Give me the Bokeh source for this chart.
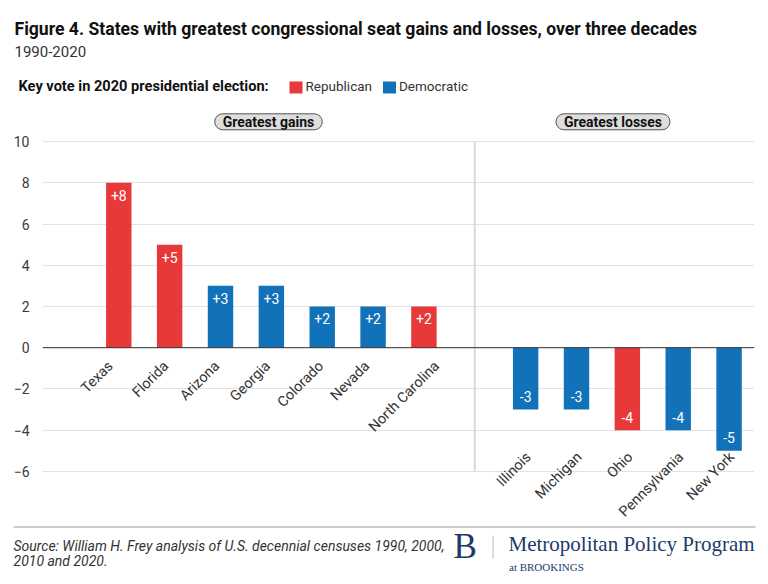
from bokeh.plotting import figure
from bokeh.models import FactorRange, Range1d, FixedTicker, Span, ColumnDataSource, Label
from bokeh.layouts import column
from bokeh.embed import file_html
from bokeh.resources import INLINE
from bokeh.core.properties import value

# ---------------- data ----------------
gain_states = ["Texas", "Florida", "Arizona", "Georgia", "Colorado", "Nevada", "North Carolina"]
gain_values = [8, 5, 3, 3, 2, 2, 2]
gain_party = ["Republican", "Republican", "Democratic", "Democratic", "Democratic", "Democratic", "Republican"]

loss_states = ["Illinois", "Michigan", "Ohio", "Pennsylvania", "New York"]
loss_values = [-3, -3, -4, -4, -5]
loss_party = ["Democratic", "Democratic", "Republican", "Democratic", "Democratic"]

y_ticks = [-6, -4, -2, 0, 2, 4, 6, 8, 10]
legend_labels = ["Republican", "Democratic"]
panel_labels = ["Greatest gains", "Greatest losses"]

title = "Figure 4. States with greatest congressional seat gains and losses, over three decades"
subtitle = "1990-2020"
legend_title = "Key vote in 2020 presidential election:"
source_lines = ["Source: William H. Frey analysis of U.S. decennial censuses 1990, 2000,",
                "2010 and 2020."]
logo_lines = ["Metropolitan Policy Program", "at BROOKINGS"]

# ---------------- style ----------------
RED = "#e8393a"
BLUE = "#1272b9"
NAVY = "#1c3a6b"
party_color = {"Republican": RED, "Democratic": BLUE}
FONT = "Roboto"
SERIF = "Liberation Serif"
W = 768


def no_align(f):
    try:
        f.frame_align = False
    except Exception:
        pass


def blank_fig(h):
    f = figure(width=W, height=h, x_range=Range1d(0, W), y_range=Range1d(h, 0),
               output_backend="svg", toolbar_location=None, tools="",
               min_border=0, x_axis_location=None, y_axis_location=None,
               outline_line_color=None)
    f.xgrid.visible = False
    f.ygrid.visible = False
    no_align(f)
    return f


# ---------------- header ----------------
HH = 133
hdr = blank_fig(HH)
hdr.text(x=[14], y=[28.8], text=[title], text_font=value(FONT), text_font_size="17.6px",
         text_font_style="bold", text_color="#111111", text_baseline="middle")
hdr.text(x=[14], y=[51.2], text=[subtitle], text_font=value(FONT), text_font_size="15px",
         text_color="#333333", text_baseline="middle")
hdr.text(x=[18], y=[85.9], text=[legend_title], text_font=value(FONT), text_font_size="14.6px",
         text_font_style="bold", text_color="#111111", text_baseline="middle")
sq_left = [289, 382.5]
hdr.rect(x=[s + 6.5 for s in sq_left], y=[87, 87], width=13, height=12,
         fill_color=[party_color[l] for l in legend_labels], line_color=None)
hdr.text(x=[s + 16 for s in sq_left], y=[85.9, 85.9], text=legend_labels,
         text_font=value(FONT), text_font_size="13.5px", text_color="#333333",
         text_baseline="middle")

pill_x = [268, 612.5]
for px, txt in zip(pill_x, panel_labels):
    kw = dict(x=px, y=121.3, text=txt, text_font=FONT, text_font_size="14px",
              text_font_style="bold", text_color="#111111", text_align="center",
              text_baseline="middle", background_fill_color="#dedede",
              border_line_color="#555555", border_line_width=1)
    try:
        lab = Label(padding=(8, 0), border_radius=8, **kw)
    except Exception:
        lab = Label(**kw)
    hdr.add_layout(lab)

# ---------------- main chart ----------------
states = gain_states + loss_states
values = gain_values + loss_values
parties = gain_party + loss_party
factors = ["_pad"] + gain_states + ["_gap"] + loss_states

p = figure(width=W, height=391,
           x_range=FactorRange(factors=factors, range_padding=0, factor_padding=0),
           y_range=Range1d(-8.48, 10.1),
           output_backend="svg", toolbar_location=None, tools="",
           min_border_left=42, min_border_right=14, min_border_top=6, min_border_bottom=2,
           x_axis_location=None, outline_line_color=None)
no_align(p)

p.xgrid.visible = False
p.yaxis.ticker = FixedTicker(ticks=y_ticks)
p.ygrid.ticker = FixedTicker(ticks=y_ticks)
p.ygrid.grid_line_color = "#e2e2e2"
p.ygrid.grid_line_width = 1
p.yaxis.axis_line_color = None
p.yaxis.major_tick_line_color = None
p.yaxis.minor_tick_line_color = None
p.yaxis.major_tick_out = 0
p.yaxis.major_tick_in = 0
p.yaxis.major_label_standoff = 13
p.yaxis.major_label_text_font = FONT
p.yaxis.major_label_text_font_size = "14px"
p.yaxis.major_label_text_color = "#3a3a3a"

# divider between the two panels
p.segment(x0=["_gap"], y0=[min(y_ticks)], x1=["_gap"], y1=[max(y_ticks)],
          line_color="#d9d9d9", line_width=2)

src = ColumnDataSource(dict(
    state=states,
    value=values,
    color=[party_color[pt] for pt in parties],
    label=[f"{v:+d}" for v in values],
    loff=[12.5 if v > 0 else -13 for v in values],
))
p.vbar(x="state", top="value", bottom=0, width=0.5, fill_color="color",
       line_color=None, source=src)
p.add_layout(Span(location=0, dimension="width", line_color="#333333", line_width=1))

p.text(x="state", y="value", text="label", y_offset="loff", source=src,
       text_font=value(FONT), text_font_size="14px", text_color="white",
       text_align="center", text_baseline="middle")

# category labels (longer rotated labels sit a little further right, as in the original)
gain_xoff = [-20 + 0.357 * 6.6 * len(s) for s in gain_states]
p.text(x=gain_states, y=[0] * len(gain_states), text=gain_states,
       angle=45, angle_units="deg", x_offset=gain_xoff, y_offset=16,
       text_font=value(FONT), text_font_size="14.4px", text_color="#333333",
       text_align="right", text_baseline="middle")
lmin = min(loss_values)
p.text(x=loss_states, y=[lmin] * len(loss_states), text=loss_states,
       angle=45, angle_units="deg", x_offset=3, y_offset=4,
       text_font=value(FONT), text_font_size="14.4px", text_color="#333333",
       text_align="right", text_baseline="middle")

# ---------------- footer ----------------
FH = 60
ftr = blank_fig(FH)
ftr.segment(x0=[13], y0=[2.5], x1=[755], y1=[2.5], line_color="#999999", line_width=1)
ftr.text(x=[13, 13], y=[21, 36.8], text=source_lines, text_font=value(FONT),
         text_font_size="14px", text_font_style="italic", text_color="#333333",
         text_baseline="middle")
ftr.text(x=[453], y=[22.4], text=["B"], text_font=value(SERIF), text_font_size="35px",
         text_color=NAVY, text_baseline="middle")
ftr.segment(x0=[492.5], y0=[11], x1=[492.5], y1=[34], line_color="#b4bccb", line_width=1)
ftr.text(x=[508], y=[19.5], text=[logo_lines[0]], text_font=value(SERIF),
         text_font_size="21px", text_color=NAVY, text_baseline="middle")
ftr.text(x=[508.5], y=[42.5], text=[logo_lines[1]], text_font=value(SERIF),
         text_font_size="11px", text_color=NAVY, text_baseline="middle")

layout = column(hdr, p, ftr, spacing=0)
open("out.html", "w").write(file_html(layout, INLINE))
